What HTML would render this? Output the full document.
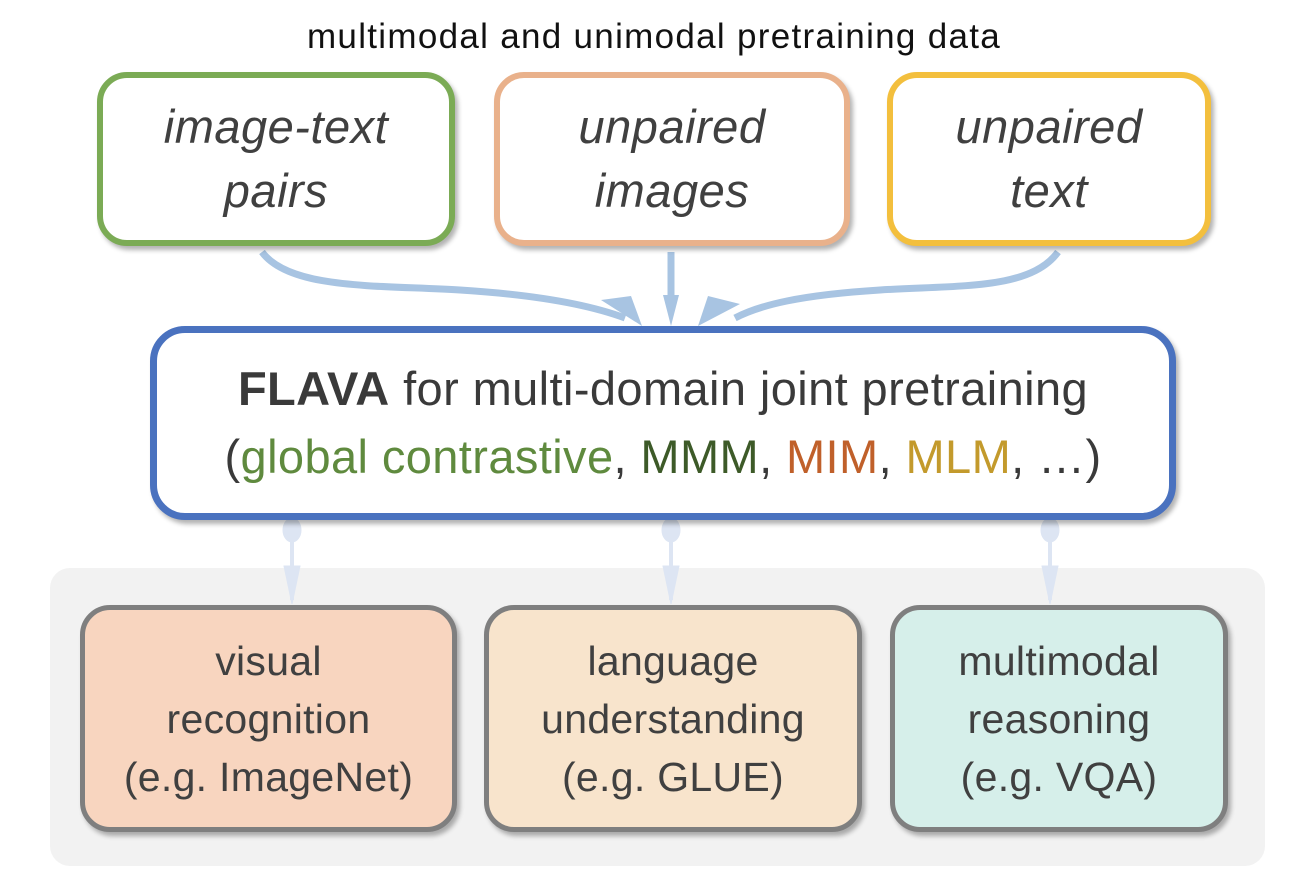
<!DOCTYPE html>
<html><head><meta charset="utf-8"><style>
body{margin:0;width:1308px;height:892px;background:#fff;position:relative;overflow:hidden;font-family:"Liberation Sans","DejaVu Sans",sans-serif;color:#404040}
.b{position:absolute;box-sizing:border-box;display:flex;align-items:center;justify-content:center;text-align:center;box-shadow:3px 4px 5px rgba(0,0,0,0.3);white-space:nowrap}
.top{border-width:6px;border-style:solid;border-radius:30px;background:#fff;font-style:italic;font-size:47px;line-height:64px;top:72px;height:174px;letter-spacing:0.5px}
.bot{border:5px solid #7f7f7f;border-radius:30px;font-size:41px;line-height:58px;top:605px;height:227px;color:#404040;letter-spacing:0.3px}
</style></head><body>
<div style="position:absolute;left:0;width:1308px;top:17px;text-align:center;font-size:35px;letter-spacing:1.3px;color:#111">multimodal and unimodal pretraining data</div>
<div style="position:absolute;left:50px;top:568px;width:1215px;height:298px;background:#f2f2f2;border-radius:20px"></div>
<svg width="1308" height="892" style="position:absolute;left:0;top:0">
<g fill="none" stroke="#a8c4e2" stroke-width="7">
<path d="M262 252 C290 290 380 285 460 290 C540 295 590 305 625 318"/>
<path d="M1058 252 C1030 290 960 285 880 290 C800 295 760 305 735 318"/>
<path d="M671 252 L671 300"/>
</g>
<g fill="#a8c4e2">
<polygon points="601,300 631,296 642,326"/>
<polygon points="663,295 679,295 671,326"/>
<polygon points="708,296 740,304 698,326"/>
</g>
<g fill="#dde5f3" stroke="#dde5f3">
<ellipse cx="292" cy="530" rx="9" ry="12"/><ellipse cx="671" cy="530" rx="9" ry="12"/><ellipse cx="1050" cy="530" rx="9" ry="12"/>
<line x1="292" y1="530" x2="292" y2="600" stroke-width="4"/><line x1="671" y1="530" x2="671" y2="600" stroke-width="4"/><line x1="1050" y1="530" x2="1050" y2="600" stroke-width="4"/>
<polygon points="284,566 300,566 292,604"/><polygon points="663,566 679,566 671,604"/><polygon points="1042,566 1058,566 1050,604"/>
</g>
</svg>
<div class="b top" style="left:97px;width:358px;border-color:#7bab55">image-text<br>pairs</div>
<div class="b top" style="left:494px;width:356px;border-color:#e9b18b">unpaired<br>images</div>
<div class="b top" style="left:887px;width:324px;border-color:#f3bf3d">unpaired<br>text</div>
<div class="b" style="left:150px;top:326px;width:1026px;height:194px;border:7px solid #4a72bf;border-radius:35px;background:#fff;font-size:47px;line-height:68px;color:#3a3a3a;letter-spacing:0.4px">
<div><b>FLAVA</b> for multi-domain joint pretraining<br>(<span style="color:#5f8a3e">global contrastive</span>, <span style="color:#3d5a28">MMM</span>, <span style="color:#c0602a">MIM</span>, <span style="color:#c39a2c">MLM</span>, …)</div></div>
<div class="b bot" style="left:80px;width:377px;background:#f8d5bf">visual<br>recognition<br>(e.g. ImageNet)</div>
<div class="b bot" style="left:484px;width:378px;background:#f8e4cc">language<br>understanding<br>(e.g. GLUE)</div>
<div class="b bot" style="left:890px;width:338px;background:#d6efea">multimodal<br>reasoning<br>(e.g. VQA)</div>
</body></html>
